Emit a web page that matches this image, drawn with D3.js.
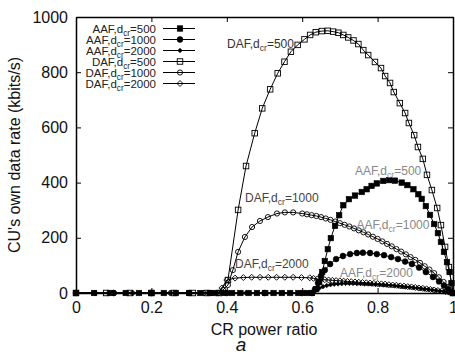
<!DOCTYPE html>
<html><head><meta charset="utf-8">
<script src="https://cdn.jsdelivr.net/npm/d3@7"></script>
<style>
body{margin:0;background:#fff;}
svg{display:block;font-family:"Liberation Sans",Arial,sans-serif;}
</style></head>
<body><svg id="c" width="455" height="358"></svg>
<script>
// ---- data ----
const xTicks = [0, 0.2, 0.4, 0.6, 0.8, 1];
const yTicks = [0, 200, 400, 600, 800, 1000];

const aaf500X = [0,0.048,0.09,0.132,0.167,0.2,0.233,0.265,0.3,0.33,0.355,0.37,0.392,0.414,0.436,0.458,0.48,0.502,0.524,0.546,0.568,0.59,0.612,
  0.626,0.637,0.645,0.653,0.66,0.668,0.676,0.687,0.698,0.709,0.724,0.74,0.758,0.771,0.784,0.798,0.815,0.831,0.846,0.864,0.879,0.895,0.908,0.917,0.928,0.939,0.95,0.96,0.968,0.976,0.984,0.991,0.996,1.0];
const aaf500Y = [0,0,0,0,0,0,0,0,0,0,0,0,0,0,0,0,0,0,0,0,0,0,0,
  0,14,40,76,116,159,199,243,282,318,340,353,366,376,388,397,406,409,407,400,391,376,358,341,315,283,250,217,185,149,112,76,36,0];

const aaf1000X = [0,0.1,0.2,0.3,0.4,0.5,0.6,
  0.626,0.634,0.642,0.65,0.66,0.674,0.69,0.708,0.727,0.745,0.761,0.78,0.798,0.817,0.836,0.854,0.873,0.891,0.91,0.928,0.947,0.963,0.976,0.987,0.995,1.0];
const aaf1000Y = [0,0,0,0,0,0,0,
  0,14,36,62,83,105,123,134,141,145,146,145,141,137,130,123,114,105,92,76,58,42,27,14,5,0];

const aaf2000X = [0.05,0.15,0.25,0.35,0.45,0.55,0.61,
  0.626,0.635,0.645,0.655,0.665,0.675,0.685,0.695,0.705,0.715,0.725,0.735,0.745,0.755,0.765,0.775,0.785,0.795,0.805,0.815,0.825,0.835,0.845,0.855,0.865,0.875,0.885,0.895,0.905,0.915,0.925,0.935,0.945,0.955,0.965,0.975,0.985,0.993,1.0];
const aaf2000Y = [0,0,0,0,0,0,0,
  0,8,17,23,27,30,32,33,34,35,35,35,34,34,33,33,32,31,30,29,28,27,26,25,23,22,21,19,18,16,14,13,11,9,7,5,3,1,0];

const daf500X = [0,0.08,0.143,0.2,0.26,0.31,0.347,0.379,0.403,0.43,0.451,0.474,0.494,0.515,0.535,0.553,0.57,0.588,0.606,0.621,0.636,0.652,0.668,0.682,0.696,0.709,0.722,0.736,0.749,0.762,0.775,0.793,0.809,0.82,0.833,0.843,0.859,0.873,0.883,0.897,0.907,0.92,0.931,0.944,0.958,0.968,0.979,0.989,1.0];
const daf500Y = [0,0,0,0,0,0,0,0,47,301,460,579,669,738,796,838,874,899,919,935,945,949,950,947,943,935,926,915,902,880,862,837,815,786,761,728,688,652,616,572,529,486,428,373,308,246,167,94,0];

const daf1000X = [0,0.1,0.2,0.3,0.36,0.377,0.39,0.403,0.416,0.43,0.448,0.467,0.488,0.509,0.533,0.554,0.576,0.6,0.6125,0.625,0.6375,0.65,0.6625,0.675,0.6875,0.7,0.7125,0.725,0.7375,0.75,0.7625,0.775,0.7875,0.8,0.8125,0.825,0.8375,0.85,0.8625,0.875,0.8875,0.9,0.9125,0.925,0.9375,0.95,0.9625,0.975,0.9875,1.0];
const daf1000Y = [0,0,0,0,0,0,11,29,83,149,203,239,261,275,288,292,292,288,285,282,279,275,270,265,259,253,247,241,234,227,220,212,204,196,187,178,169,159,150,140,130,120,109,97,85,72,57,40,22,0];

const daf2000X = [0,0.05,0.15,0.25,0.34,0.379,0.387,0.4,0.422,0.444,0.466,0.488,0.51,0.532,0.554,0.576,0.598,0.62,0.63,0.64,0.65,0.66,0.67,0.68,0.69,0.7,0.71,0.72,0.73,0.74,0.75,0.76,0.77,0.78,0.79,0.8,0.81,0.82,0.83,0.84,0.85,0.86,0.87,0.88,0.89,0.9,0.91,0.92,0.93,0.94,0.95,0.96,0.97,0.98,0.99,1.0];
const daf2000Y = [0,0,0,0,0,0,18,47,54,56,57,57,57,57,57,57,56,55,53,51,49,48,47,46,45,44,43,42,41,40,39,38,37,36,35,34,33,32,30,29,28,26,25,23,22,20,18,17,15,13,11,9,7,5,3,0];

const seriesNames = ["AAF500","AAF1000","AAF2000","DAF500","DAF1000","DAF2000"];
const legendLabels = [["AAF,d","cr","=500"],["AAF,d","cr","=1000"],["AAF,d","cr","=2000"],["DAF,d","cr","=500"],["DAF,d","cr","=1000"],["DAF,d","cr","=2000"]];

// ---- drawing ----
const svg = d3.select("#c");
const L = 76, R = 453, T = 17, B = 293;
const x = d3.scaleLinear().domain([0,1]).range([L,R]);
const y = d3.scaleLinear().domain([0,1000]).range([B,T]);

const series = [
  {xs:aaf500X, ys:aaf500Y, m:"fsq"},
  {xs:aaf1000X, ys:aaf1000Y, m:"fci"},
  {xs:aaf2000X, ys:aaf2000Y, m:"fdi"},
  {xs:daf500X, ys:daf500Y, m:"osq"},
  {xs:daf1000X, ys:daf1000Y, m:"oci"},
  {xs:daf2000X, ys:daf2000Y, m:"odi"}
];

function marker(g, kind, cx, cy){
  const filled = kind[0]==="f";
  const fill = filled ? "#000" : "none";
  const k = kind.slice(1);
  let el;
  if(k==="sq"){
    const s = 5.5;
    el = g.append("rect").attr("x",cx-s/2).attr("y",cy-s/2).attr("width",s).attr("height",s);
  } else if(k==="ci"){
    el = g.append("circle").attr("cx",cx).attr("cy",cy).attr("r",filled?2.9:2.6);
  } else {
    const r = filled?2.3:3.0;
    el = g.append("path").attr("d",`M${cx},${cy-r}L${cx+r},${cy}L${cx},${cy+r}L${cx-r},${cy}Z`);
  }
  el.attr("fill",fill).attr("stroke","#000").attr("stroke-width",filled?0.6:0.9);
}

const line = d3.line().x(d=>x(d[0])).y(d=>y(d[1]));
const plot = svg.append("g");
series.forEach(s=>{
  const pts = s.xs.map((v,i)=>[v,s.ys[i]]);
  plot.append("path").attr("d",line(pts)).attr("fill","none").attr("stroke","#000").attr("stroke-width",1);
});
series.forEach(s=>{
  s.xs.forEach((v,i)=>marker(plot, s.m, x(v), y(s.ys[i])));
});

// axes
const axB = svg.append("g").attr("transform",`translate(0,${B})`)
  .call(d3.axisBottom(x).tickValues(xTicks).tickSizeInner(-5).tickSizeOuter(0).tickPadding(9).tickFormat(d=>String(d)));
const axL = svg.append("g").attr("transform",`translate(${L},0)`)
  .call(d3.axisLeft(y).tickValues(yTicks).tickSizeInner(-5).tickSizeOuter(0).tickPadding(8).tickFormat(d=>String(d)));
const axT = svg.append("g").attr("transform",`translate(0,${T})`)
  .call(d3.axisTop(x).tickValues(xTicks).tickSizeInner(-5).tickSizeOuter(0).tickFormat(""));
const axR = svg.append("g").attr("transform",`translate(${R},0)`)
  .call(d3.axisRight(y).tickValues(yTicks).tickSizeInner(-5).tickSizeOuter(0).tickFormat(""));
[axB,axL,axT,axR].forEach(a=>{
  a.selectAll(".domain").attr("stroke","#000").attr("stroke-width",1.5);
  a.selectAll(".tick line").attr("stroke","#000").attr("stroke-width",1);
  a.selectAll("text").attr("font-size",16).attr("fill","#111").attr("font-family","Liberation Sans, Arial, sans-serif");
});

// axis titles
svg.append("text").attr("x",264).attr("y",335).attr("text-anchor","middle")
  .attr("font-size",16).attr("fill","#111").text("CR power ratio");
svg.append("text").attr("transform","translate(20,155) rotate(-90)").attr("text-anchor","middle")
  .attr("font-size",16).attr("fill","#111").text("CU's own data rate (kbits/s)");
svg.append("text").attr("x",241).attr("y",351).attr("text-anchor","middle")
  .attr("font-size",19).attr("font-style","italic").attr("fill","#111").text("a");

function subLabel(px, py, parts, anchor, color, fs){
  const t = svg.append("text").attr("x",px).attr("y",py).attr("text-anchor",anchor)
    .attr("font-size",fs).attr("fill",color);
  t.append("tspan").text(parts[0]);
  t.append("tspan").attr("dy",3).attr("font-size",fs*0.72).text(parts[1]);
  t.append("tspan").attr("dy",-3).text(parts[2]);
}

// legend
legendLabels.forEach((lab,i)=>{
  const cy = 28.5 + 11*i;
  subLabel(156, cy+4.2, lab, "end", "#222", 11.5);
  svg.append("line").attr("x1",163).attr("x2",195).attr("y1",cy).attr("y2",cy).attr("stroke","#000").attr("stroke-width",1);
  marker(svg, series[i].m, 180, cy);
});

// curve labels
subLabel(227, 47.5, ["DAF,d","cr","=500"], "start", "#333", 12);
subLabel(245, 201.5, ["DAF,d","cr","=1000"], "start", "#444", 12);
subLabel(235, 267.5, ["DAF,d","cr","=2000"], "start", "#444", 12);
subLabel(355, 175, ["AAF,d","cr","=500"], "start", "#888", 12);
subLabel(356.5, 229, ["AAF,d","cr","=1000"], "start", "#888", 12);
subLabel(340, 276.5, ["AAF,d","cr","=2000"], "start", "#888", 12);
</script>
</body></html>
